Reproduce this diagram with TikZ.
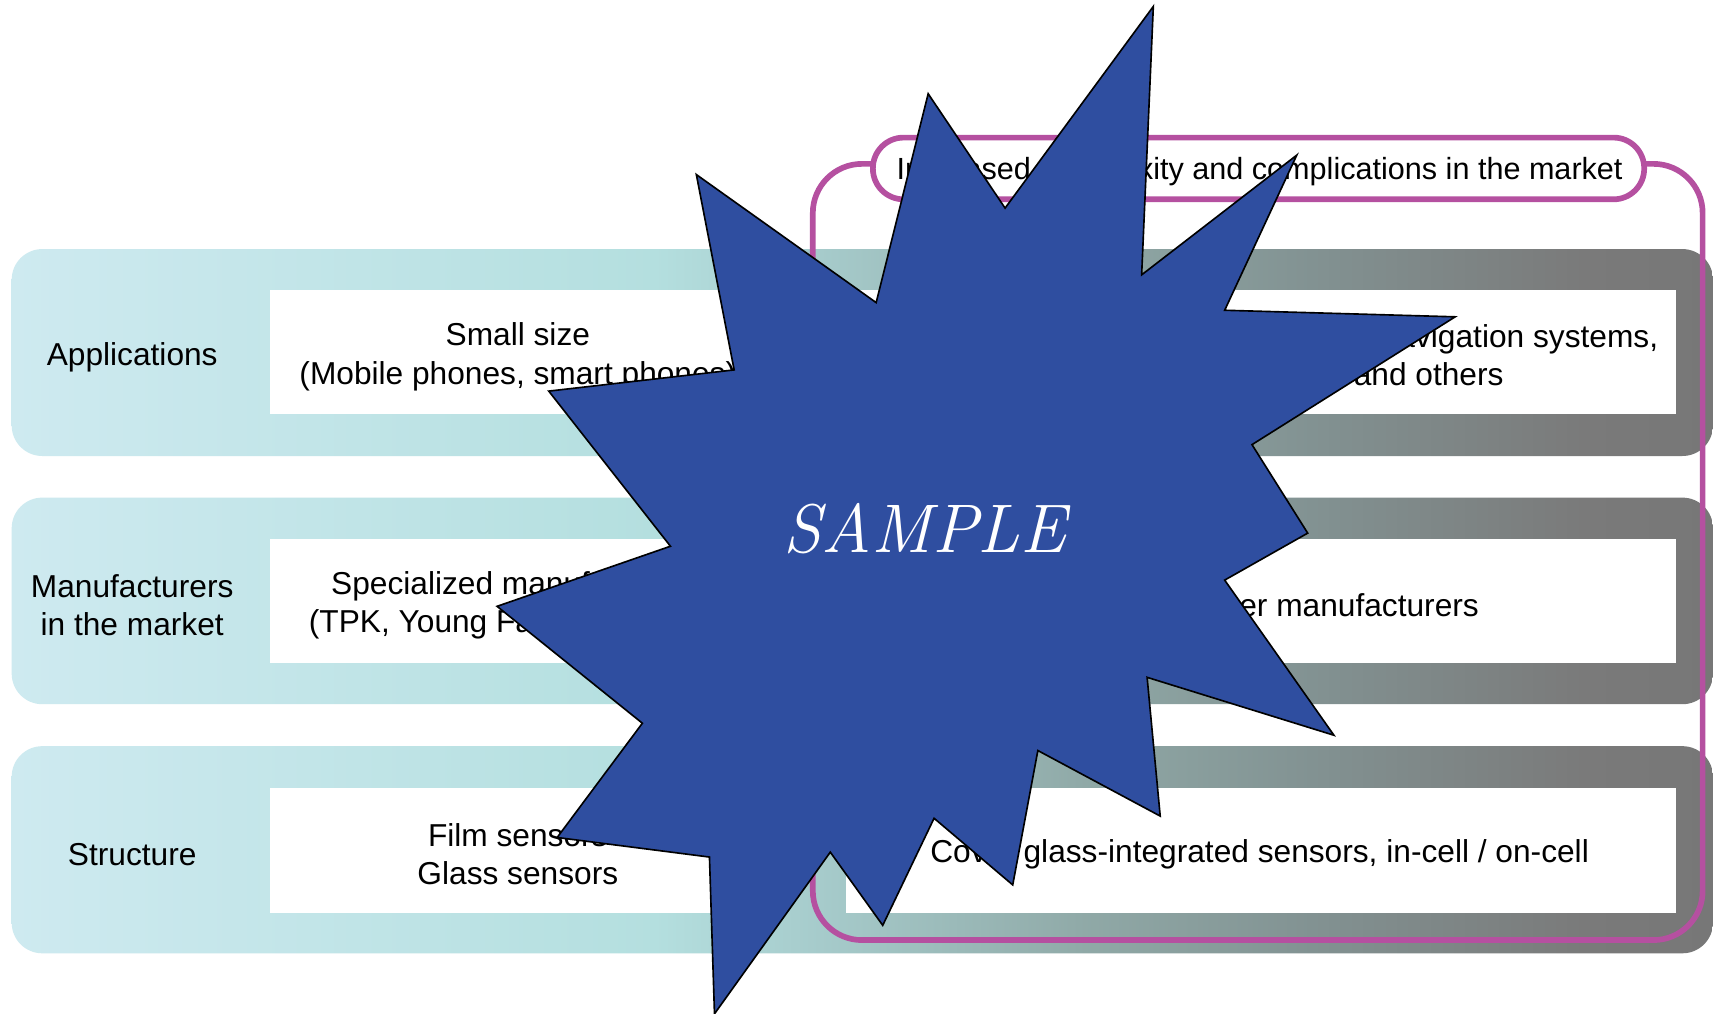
\documentclass[tikz,border=0pt]{standalone}
\usepackage{fontspec}
\newfontfamily\arialf{Liberation Sans}
\definecolor{bA}{RGB}{206,234,240}
\definecolor{bB}{RGB}{180,223,223}
\definecolor{bC}{RGB}{166,203,203}
\definecolor{bD}{RGB}{143,168,166}
\definecolor{bE}{RGB}{130,146,146}
\definecolor{bF}{RGB}{122,122,122}
\definecolor{bG}{RGB}{119,119,119}
\definecolor{magc}{RGB}{181,80,160}
\definecolor{starc}{RGB}{47,78,160}
\pgfdeclarehorizontalshading{bandshade}{100bp}{color(0bp)=(bA); color(25bp)=(bA); color(43.9bp)=(bB); color(48.75bp)=(bC); color(56.8bp)=(bD); color(63.2bp)=(bE); color(71.2bp)=(bF); color(75bp)=(bG); color(100bp)=(bG)}
\begin{document}
\begin{tikzpicture}[x=1pt,y=-1pt,
  band/.style={shading=bandshade, rounded corners=28pt},
  wbox/.style={fill=white},
  lbl/.style={font=\arialf\fontsize{29}{35}\selectfont, align=center, inner sep=0pt},
  mag/.style={draw=magc, line width=5.2pt},
  starshape/.style={fill=starc, draw=black, line width=1.5pt, line join=miter}
  ]
\useasboundingbox (0,0) rectangle (1568,928);
\fill[white] (0,0) rectangle (1568,928);
% bands
\path[band] (10.7,228) rectangle (1568,417.4);
\path[band] (10.7,455.5) rectangle (1568,644.6);
\path[band] (10.7,683) rectangle (1568,872.6);
% white boxes
\fill[wbox] (247,265.4) rectangle (701,379.3);
\fill[wbox] (774,265.4) rectangle (1534,379.3);
\fill[wbox] (247,493.4) rectangle (701,607.2);
\fill[wbox] (774,493.4) rectangle (1534,607.2);
\fill[wbox] (247,721) rectangle (701,835.4);
\fill[wbox] (774,721) rectangle (1534,835.4);
% magenta frame
\draw[mag, rounded corners=45pt] (744,150) rectangle (1558.5,860.5);
\node[mag, fill=white, rounded corners=28pt, minimum width=706pt, minimum height=56.5pt, inner sep=0pt] (title) at (1152,154.2) {};
\node[lbl, font=\arialf\fontsize{28}{34}\selectfont] (titletext) at (1153,157) {Increased complexity and complications in the market};
% row labels
\node[lbl] (l1) at (121,327) {Applications};
\node[lbl] (l2) at (121,554) {Manufacturers\\in the market};
\node[lbl] (l3) at (121,782) {Structure};
% left texts
\node[lbl] (a1) at (474,326.5) {Small size\\(Mobile phones, smart phones)};
\node[lbl] (a2) at (474,554) {Specialized manufacturers\\(TPK, Young Fast and others)};
\node[lbl] (a3) at (474,782) {Film sensors\\Glass sensors};
% right texts
\node[lbl] (b1) at (1153,326.5) {Medium and large sizes: tablets, car navigation systems,\\notebook PCs, e-books and others};
\node[lbl] (b2) at (1153,554) {LCD / color filter manufacturers};
\node[lbl] (b3) at (1153,782) {Cover glass-integrated sensors, in-cell / on-cell};
% star
\filldraw[starshape] (1055.7,5.9) -- (1045,251.6) -- (1187,142) -- (1121,284) -- (1332,290) -- (1146,407) -- (1197,488) -- (1121,531) -- (1221,673) -- (1050,620) -- (1062,747) -- (950,687) -- (927,810) -- (855,749) -- (808,847) -- (760,780) -- (654,928) -- (649.4,784.5) -- (510,766.6) -- (588,662) -- (455,555) -- (613.7,500) -- (502.3,358) -- (672,338.6) -- (637.4,159.8) -- (802,277) -- (849.6,85.8) -- (920,190.5) -- cycle;
\node[font=\fontsize{63}{63}\selectfont\itshape, text=white, anchor=base, inner sep=0pt] (sample) at (846.5,506) {SAMPLE};
\end{tikzpicture}
\end{document}
